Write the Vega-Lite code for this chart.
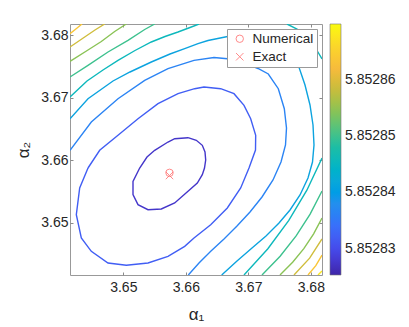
{
  "$schema": "https://vega.github.io/schema/vega-lite/v6.json",
  "autosize": "none",
  "width": 252,
  "height": 251,
  "padding": {"left": 70, "top": 24, "right": 87, "bottom": 52},
  "background": "white",
  "config": {
    "font": "Liberation Sans",
    "view": {"stroke": "#999999", "strokeWidth": 1},
    "axis": {"grid": false, "domain": false, "tickColor": "#8a8a8a", "tickSize": -3, "labelColor": "#262626", "labelFontSize": 14, "titleColor": "#262626", "titleFontWeight": "normal", "titleFontSize": 17, "labelFont": "Liberation Sans", "titleFont": "Liberation Sans"}
  },
  "datasets": {
    "contours": [
      {"seg":"c1","lvl":5.8528275,"i":0,"x":3.66035,"y":3.66357},
      {"seg":"c1","lvl":5.8528275,"i":1,"x":3.66168,"y":3.66315},
      {"seg":"c1","lvl":5.8528275,"i":2,"x":3.66264,"y":3.66235},
      {"seg":"c1","lvl":5.8528275,"i":3,"x":3.66307,"y":3.66128},
      {"seg":"c1","lvl":5.8528275,"i":4,"x":3.66318,"y":3.66000},
      {"seg":"c1","lvl":5.8528275,"i":5,"x":3.66299,"y":3.65872},
      {"seg":"c1","lvl":5.8528275,"i":6,"x":3.66264,"y":3.65765},
      {"seg":"c1","lvl":5.8528275,"i":7,"x":3.66184,"y":3.65632},
      {"seg":"c1","lvl":5.8528275,"i":8,"x":3.66035,"y":3.65499},
      {"seg":"c1","lvl":5.8528275,"i":9,"x":3.65822,"y":3.65312},
      {"seg":"c1","lvl":5.8528275,"i":10,"x":3.65608,"y":3.65216},
      {"seg":"c1","lvl":5.8528275,"i":11,"x":3.65395,"y":3.65205},
      {"seg":"c1","lvl":5.8528275,"i":12,"x":3.65235,"y":3.65285},
      {"seg":"c1","lvl":5.8528275,"i":13,"x":3.65155,"y":3.65445},
      {"seg":"c1","lvl":5.8528275,"i":14,"x":3.65155,"y":3.65659},
      {"seg":"c1","lvl":5.8528275,"i":15,"x":3.65262,"y":3.65872},
      {"seg":"c1","lvl":5.8528275,"i":16,"x":3.65379,"y":3.66048},
      {"seg":"c1","lvl":5.8528275,"i":17,"x":3.65502,"y":3.66155},
      {"seg":"c1","lvl":5.8528275,"i":18,"x":3.65715,"y":3.66288},
      {"seg":"c1","lvl":5.8528275,"i":19,"x":3.65822,"y":3.66341},
      {"seg":"c1","lvl":5.8528275,"i":20,"x":3.66035,"y":3.66357},

      {"seg":"c2","lvl":5.852832,"i":0,"x":3.64435,"y":3.65872},
      {"seg":"c2","lvl":5.852832,"i":1,"x":3.64622,"y":3.66155},
      {"seg":"c2","lvl":5.852832,"i":2,"x":3.64915,"y":3.66395},
      {"seg":"c2","lvl":5.852832,"i":3,"x":3.65235,"y":3.66661},
      {"seg":"c2","lvl":5.852832,"i":4,"x":3.65555,"y":3.66901},
      {"seg":"c2","lvl":5.852832,"i":5,"x":3.65875,"y":3.67061},
      {"seg":"c2","lvl":5.852832,"i":6,"x":3.66142,"y":3.67141},
      {"seg":"c2","lvl":5.852832,"i":7,"x":3.66291,"y":3.67168},
      {"seg":"c2","lvl":5.852832,"i":8,"x":3.66558,"y":3.67141},
      {"seg":"c2","lvl":5.852832,"i":9,"x":3.66771,"y":3.67061},
      {"seg":"c2","lvl":5.852832,"i":10,"x":3.66931,"y":3.66875},
      {"seg":"c2","lvl":5.852832,"i":11,"x":3.67038,"y":3.66661},
      {"seg":"c2","lvl":5.852832,"i":12,"x":3.67118,"y":3.66395},
      {"seg":"c2","lvl":5.852832,"i":13,"x":3.67115,"y":3.66160},
      {"seg":"c2","lvl":5.852832,"i":14,"x":3.67011,"y":3.65872},
      {"seg":"c2","lvl":5.852832,"i":15,"x":3.66878,"y":3.65552},
      {"seg":"c2","lvl":5.852832,"i":16,"x":3.66664,"y":3.65232},
      {"seg":"c2","lvl":5.852832,"i":17,"x":3.66398,"y":3.64965},
      {"seg":"c2","lvl":5.852832,"i":18,"x":3.66131,"y":3.64752},
      {"seg":"c2","lvl":5.852832,"i":19,"x":3.65982,"y":3.64619},
      {"seg":"c2","lvl":5.852832,"i":20,"x":3.65715,"y":3.64459},
      {"seg":"c2","lvl":5.852832,"i":21,"x":3.65395,"y":3.64352},
      {"seg":"c2","lvl":5.852832,"i":22,"x":3.65048,"y":3.64315},
      {"seg":"c2","lvl":5.852832,"i":23,"x":3.64755,"y":3.64352},
      {"seg":"c2","lvl":5.852832,"i":24,"x":3.64488,"y":3.64539},
      {"seg":"c2","lvl":5.852832,"i":25,"x":3.64328,"y":3.64752},
      {"seg":"c2","lvl":5.852832,"i":26,"x":3.64248,"y":3.65125},
      {"seg":"c2","lvl":5.852832,"i":27,"x":3.64302,"y":3.65552},
      {"seg":"c2","lvl":5.852832,"i":28,"x":3.64435,"y":3.65872},

      {"seg":"A","lvl":5.8528365,"i":0,"x":3.64147,"y":3.66155},
      {"seg":"A","lvl":5.8528365,"i":1,"x":3.64488,"y":3.66608},
      {"seg":"A","lvl":5.8528365,"i":2,"x":3.64915,"y":3.66981},
      {"seg":"A","lvl":5.8528365,"i":3,"x":3.65342,"y":3.67275},
      {"seg":"A","lvl":5.8528365,"i":4,"x":3.65715,"y":3.67461},
      {"seg":"A","lvl":5.8528365,"i":5,"x":3.66131,"y":3.67595},
      {"seg":"A","lvl":5.8528365,"i":6,"x":3.66451,"y":3.67640},
      {"seg":"A","lvl":5.8528365,"i":7,"x":3.66707,"y":3.67616},
      {"seg":"A","lvl":5.8528365,"i":8,"x":3.66947,"y":3.67552},
      {"seg":"A","lvl":5.8528365,"i":9,"x":3.67155,"y":3.67464},
      {"seg":"A","lvl":5.8528365,"i":10,"x":3.67320,"y":3.67376},
      {"seg":"A","lvl":5.8528365,"i":11,"x":3.67480,"y":3.67141},
      {"seg":"A","lvl":5.8528365,"i":12,"x":3.67576,"y":3.66821},
      {"seg":"A","lvl":5.8528365,"i":13,"x":3.67611,"y":3.66512},
      {"seg":"A","lvl":5.8528365,"i":14,"x":3.67595,"y":3.66240},
      {"seg":"A","lvl":5.8528365,"i":15,"x":3.67523,"y":3.65968},
      {"seg":"A","lvl":5.8528365,"i":16,"x":3.67395,"y":3.65680},
      {"seg":"A","lvl":5.8528365,"i":17,"x":3.67219,"y":3.65408},
      {"seg":"A","lvl":5.8528365,"i":18,"x":3.67027,"y":3.65168},
      {"seg":"A","lvl":5.8528365,"i":19,"x":3.66819,"y":3.64944},
      {"seg":"A","lvl":5.8528365,"i":20,"x":3.66611,"y":3.64736},
      {"seg":"A","lvl":5.8528365,"i":21,"x":3.66403,"y":3.64544},
      {"seg":"A","lvl":5.8528365,"i":22,"x":3.66211,"y":3.64352},
      {"seg":"A","lvl":5.8528365,"i":23,"x":3.66040,"y":3.64160},

      {"seg":"B","lvl":5.852841,"i":0,"x":3.64147,"y":3.66661},
      {"seg":"B","lvl":5.852841,"i":1,"x":3.64435,"y":3.66981},
      {"seg":"B","lvl":5.852841,"i":2,"x":3.64835,"y":3.67264},
      {"seg":"B","lvl":5.852841,"i":3,"x":3.65107,"y":3.67408},
      {"seg":"B","lvl":5.852841,"i":4,"x":3.65448,"y":3.67568},
      {"seg":"B","lvl":5.852841,"i":5,"x":3.65747,"y":3.67696},
      {"seg":"B","lvl":5.852841,"i":6,"x":3.65982,"y":3.67781},
      {"seg":"B","lvl":5.852841,"i":7,"x":3.66195,"y":3.67861},
      {"seg":"B","lvl":5.852841,"i":8,"x":3.66355,"y":3.67912},
      {"seg":"B","lvl":5.852841,"i":9,"x":3.66707,"y":3.67984},
      {"seg":"B","lvl":5.852841,"i":10,"x":3.67107,"y":3.67968},
      {"seg":"B","lvl":5.852841,"i":11,"x":3.67427,"y":3.67856},
      {"seg":"B","lvl":5.852841,"i":12,"x":3.67667,"y":3.67696},
      {"seg":"B","lvl":5.852841,"i":13,"x":3.67800,"y":3.67515},
      {"seg":"B","lvl":5.852841,"i":14,"x":3.67907,"y":3.67200},
      {"seg":"B","lvl":5.852841,"i":15,"x":3.67987,"y":3.66880},
      {"seg":"B","lvl":5.852841,"i":16,"x":3.68035,"y":3.66560},
      {"seg":"B","lvl":5.852841,"i":17,"x":3.68051,"y":3.66240},
      {"seg":"B","lvl":5.852841,"i":18,"x":3.68027,"y":3.65968},
      {"seg":"B","lvl":5.852841,"i":19,"x":3.67955,"y":3.65712},
      {"seg":"B","lvl":5.852841,"i":20,"x":3.67827,"y":3.65440},
      {"seg":"B","lvl":5.852841,"i":21,"x":3.67667,"y":3.65200},
      {"seg":"B","lvl":5.852841,"i":22,"x":3.67491,"y":3.64992},
      {"seg":"B","lvl":5.852841,"i":23,"x":3.67283,"y":3.64784},
      {"seg":"B","lvl":5.852841,"i":24,"x":3.67059,"y":3.64592},
      {"seg":"B","lvl":5.852841,"i":25,"x":3.66819,"y":3.64384},
      {"seg":"B","lvl":5.852841,"i":26,"x":3.66574,"y":3.64160},

      {"seg":"C1","lvl":5.8528455,"i":0,"x":3.64147,"y":3.67008},
      {"seg":"C1","lvl":5.8528455,"i":1,"x":3.64419,"y":3.67264},
      {"seg":"C1","lvl":5.8528455,"i":2,"x":3.64675,"y":3.67440},
      {"seg":"C1","lvl":5.8528455,"i":3,"x":3.64915,"y":3.67595},
      {"seg":"C1","lvl":5.8528455,"i":4,"x":3.65187,"y":3.67752},
      {"seg":"C1","lvl":5.8528455,"i":5,"x":3.65448,"y":3.67888},
      {"seg":"C1","lvl":5.8528455,"i":6,"x":3.65667,"y":3.67976},
      {"seg":"C1","lvl":5.8528455,"i":7,"x":3.65875,"y":3.68048},
      {"seg":"C1","lvl":5.8528455,"i":8,"x":3.66067,"y":3.68120},
      {"seg":"C1","lvl":5.8528455,"i":9,"x":3.66211,"y":3.68176},
      {"seg":"C2","lvl":5.8528455,"i":0,"x":3.67619,"y":3.68176},
      {"seg":"C2","lvl":5.8528455,"i":1,"x":3.67779,"y":3.68096},
      {"seg":"C2","lvl":5.8528455,"i":2,"x":3.67923,"y":3.67984},
      {"seg":"C2","lvl":5.8528455,"i":3,"x":3.68035,"y":3.67856},
      {"seg":"C2","lvl":5.8528455,"i":4,"x":3.68099,"y":3.67752},
      {"seg":"C2","lvl":5.8528455,"i":5,"x":3.68179,"y":3.67616},
      {"seg":"C3","lvl":5.8528455,"i":0,"x":3.68179,"y":3.66032},
      {"seg":"C3","lvl":5.8528455,"i":1,"x":3.67937,"y":3.65517},
      {"seg":"C3","lvl":5.8528455,"i":2,"x":3.67648,"y":3.65034},
      {"seg":"C3","lvl":5.8528455,"i":3,"x":3.67313,"y":3.64581},
      {"seg":"C3","lvl":5.8528455,"i":4,"x":3.66931,"y":3.64160},

      {"seg":"D1","lvl":5.85285,"i":0,"x":3.64147,"y":3.67328},
      {"seg":"D1","lvl":5.85285,"i":1,"x":3.64435,"y":3.67515},
      {"seg":"D1","lvl":5.85285,"i":2,"x":3.64755,"y":3.67728},
      {"seg":"D1","lvl":5.85285,"i":3,"x":3.65075,"y":3.67915},
      {"seg":"D1","lvl":5.85285,"i":4,"x":3.65342,"y":3.68088},
      {"seg":"D1","lvl":5.85285,"i":5,"x":3.65502,"y":3.68176},
      {"seg":"D2","lvl":5.85285,"i":0,"x":3.68179,"y":3.65504},
      {"seg":"D2","lvl":5.85285,"i":1,"x":3.67989,"y":3.65133},
      {"seg":"D2","lvl":5.85285,"i":2,"x":3.67765,"y":3.64786},
      {"seg":"D2","lvl":5.85285,"i":3,"x":3.67509,"y":3.64461},
      {"seg":"D2","lvl":5.85285,"i":4,"x":3.67219,"y":3.64160},

      {"seg":"E1","lvl":5.8528545,"i":0,"x":3.64147,"y":3.67579},
      {"seg":"E1","lvl":5.8528545,"i":1,"x":3.64435,"y":3.67760},
      {"seg":"E1","lvl":5.8528545,"i":2,"x":3.64648,"y":3.67896},
      {"seg":"E1","lvl":5.8528545,"i":3,"x":3.64862,"y":3.68056},
      {"seg":"E1","lvl":5.8528545,"i":4,"x":3.65048,"y":3.68176},
      {"seg":"E2","lvl":5.8528545,"i":0,"x":3.68179,"y":3.65072},
      {"seg":"E2","lvl":5.8528545,"i":1,"x":3.68045,"y":3.64819},
      {"seg":"E2","lvl":5.8528545,"i":2,"x":3.67888,"y":3.64582},
      {"seg":"E2","lvl":5.8528545,"i":3,"x":3.67709,"y":3.64363},
      {"seg":"E2","lvl":5.8528545,"i":4,"x":3.67507,"y":3.64160},

      {"seg":"F1","lvl":5.852859,"i":0,"x":3.64147,"y":3.67808},
      {"seg":"F1","lvl":5.852859,"i":1,"x":3.64382,"y":3.67968},
      {"seg":"F1","lvl":5.852859,"i":2,"x":3.64547,"y":3.68080},
      {"seg":"F1","lvl":5.852859,"i":3,"x":3.64702,"y":3.68176},
      {"seg":"F2","lvl":5.852859,"i":0,"x":3.68179,"y":3.64736},
      {"seg":"F2","lvl":5.852859,"i":1,"x":3.67981,"y":3.64429},
      {"seg":"F2","lvl":5.852859,"i":2,"x":3.67731,"y":3.64160},

      {"seg":"G1","lvl":5.8528635,"i":0,"x":3.64147,"y":3.68021},
      {"seg":"G1","lvl":5.8528635,"i":1,"x":3.64251,"y":3.68104},
      {"seg":"G1","lvl":5.8528635,"i":2,"x":3.64339,"y":3.68176},
      {"seg":"G2","lvl":5.8528635,"i":0,"x":3.68179,"y":3.64480},
      {"seg":"G2","lvl":5.8528635,"i":1,"x":3.68080,"y":3.64310},
      {"seg":"G2","lvl":5.8528635,"i":2,"x":3.67955,"y":3.64160},

      {"seg":"H2","lvl":5.852868,"i":0,"x":3.68179,"y":3.64224},
      {"seg":"H2","lvl":5.852868,"i":1,"x":3.68115,"y":3.64160}
    ],
    "markers": [
      {"kind":"Numerical","x":3.65739,"y":3.65795},
      {"kind":"Exact","x":3.65739,"y":3.65752}
    ]
  },
  "resolve": {"axis": {"x": "independent", "y": "independent"}},
  "layer": [
    {
      "data": {"name": "contours"},
      "mark": {"type": "line", "strokeWidth": 1.4, "clip": true, "interpolate": "linear"},
      "encoding": {
        "x": {"field": "x", "type": "quantitative", "scale": {"domain": [3.64147, 3.68179], "zero": false, "nice": false},
              "axis": {"orient": "bottom", "values": [3.65, 3.66, 3.67, 3.68], "format": ".2f", "title": "α₁", "labelPadding": 8, "titlePadding": 12}},
        "y": {"field": "y", "type": "quantitative", "scale": {"domain": [3.6416, 3.68176], "zero": false, "nice": false},
              "axis": {"orient": "left", "values": [3.65, 3.66, 3.67, 3.68], "format": ".2f", "title": "α₂", "labelPadding": 5, "titlePadding": 8}},
        "detail": {"field": "seg", "type": "nominal"},
        "order": {"field": "i", "type": "quantitative"},
        "color": {"field": "lvl", "type": "quantitative",
          "scale": {"type": "linear", "domain": [5.8528253, 5.85287], "range": ["#3e26a8", "#4745e8", "#3f6afa", "#2f8bf0", "#1ba6db", "#12b8bb", "#38c092", "#7dc35e", "#c1bd3f", "#f6ba3c", "#fbd52a", "#f9fb0e"]},
          "legend": {"orient": "none", "legendX": 260, "legendY": 0, "direction": "vertical", "title": null, "gradientLength": 251, "gradientThickness": 11, "gradientStrokeColor": "#777777", "gradientStrokeWidth": 0.6, "values": [5.85283, 5.85284, 5.85285, 5.85286], "format": ".5f", "labelFontSize": 14, "labelColor": "#262626", "labelOffset": 4, "labelOverlap": false, "padding": 0, "labelFont": "Liberation Sans"}}
      }
    },
    {
      "data": {"name": "markers"},
      "mark": {"type": "point", "filled": false, "strokeWidth": 1, "size": 55, "color": "#ff5a5a"},
      "encoding": {
        "x": {"field": "x", "type": "quantitative", "axis": {"orient": "top", "values": [3.65, 3.66, 3.67, 3.68], "labels": false, "title": null}},
        "y": {"field": "y", "type": "quantitative", "axis": {"orient": "right", "values": [3.65, 3.66, 3.67, 3.68], "labels": false, "title": null}},
        "shape": {"field": "kind", "type": "nominal",
          "scale": {"domain": ["Numerical", "Exact"], "range": ["circle", "M-1,-1L1,1M-1,1L1,-1"]},
          "legend": {"orient": "top-right", "offset": 5, "title": null, "fillColor": "white", "strokeColor": "#9a9a9a", "padding": 3, "labelFontSize": 13.5, "labelColor": "#262626", "symbolSize": 55, "symbolStrokeColor": "#ff5a5a", "symbolStrokeWidth": 1, "symbolFillColor": "transparent", "symbolOffset": 3, "labelOffset": 6, "rowPadding": 3, "labelFont": "Liberation Sans"}}
      }
    }
  ]
}
